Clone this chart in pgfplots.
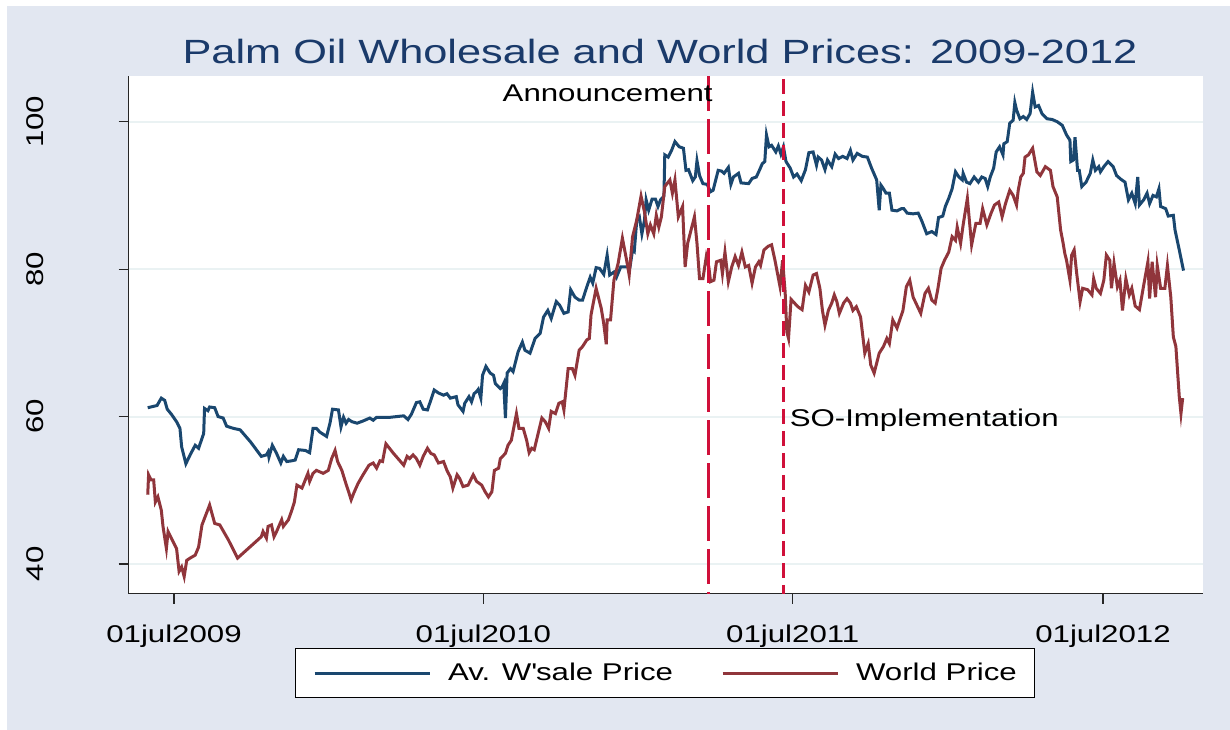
\documentclass[border=0pt]{standalone}
\usepackage{fontspec}
\setmainfont{Liberation Sans}[FakeStretch=1.29]
\usepackage{pgfplots}
\pgfplotsset{compat=1.18}
\definecolor{wblue}{HTML}{1A476F}
\definecolor{wred}{HTML}{90353B}
\definecolor{vline}{HTML}{D0103A}
\definecolor{bgc}{HTML}{E2E7F1}
\definecolor{gridc}{HTML}{EAF2F3}
\definecolor{titlec}{HTML}{1A3A6A}
\newcommand{\lab}{\fontsize{12.1bp}{14bp}\selectfont}
\begin{document}
\begin{tikzpicture}
\fill[white] (0,0) rectangle (615bp,365bp);
\fill[bgc] (3.5bp,0) rectangle (615bp,362bp);
\node[anchor=base, text=titlec, font=\fontsize{16.8bp}{20bp}\selectfont, inner sep=0pt] at (330bp,333.4bp) {Palm Oil Wholesale and World Prices: 2009-2012};
\begin{axis}[
  at={(64.25bp,68.15bp)}, anchor=south west,
  scale only axis, width=537.25bp, height=258.85bp,
  xmin=-53.7, xmax=1214, ymin=35.97, ymax=106.2,
  axis x line*=bottom, axis y line*=left,
  axis line style={line width=0.6bp, draw=black!85, -},
  axis background/.style={fill=white},
  xtick={0,365,730,1096},
  xticklabels={01jul2009,01jul2010,01jul2011,01jul2012},
  ytick={40,60,80,100}, yticklabels={40,60,80,100},
  tick align=outside, major tick length=5bp,
  tick style={line width=0.6bp, draw=black!85},
  ymajorgrids, grid style={line width=1bp, draw=gridc},
  xticklabel style={font=\lab, inner sep=0pt, anchor=north},
  xticklabel shift=10.3bp,
  yticklabel style={font=\lab, inner sep=0pt, rotate=90, anchor=base},
  yticklabel shift=37.5bp,
  legend style={at={(0.4993,-0.1532)}, anchor=center, draw=black, line width=0.6bp, fill=white,
    inner xsep=9bp, inner ysep=7bp, font=\lab, legend columns=2,
    /tikz/every even column/.append style={column sep=24bp},
    nodes={inner sep=0pt}},
  legend image code/.code={\draw[#1, line width=1.5bp] (0bp,0bp) -- (57.5bp,0bp); \path (66bp,0bp);},
  clip=false,
]
\addplot[wblue, line width=1.5bp] coordinates {
(-31,61.2) (-20,61.5) (-15,62.5) (-11,62.2) (-8,61.0) (-3,60.3) (3,59.3) (7,58.4) (9,55.9) (14,53.6) (19,54.8) (25,56.1) (29,55.7) (35,57.7) (36,61.1) (40,60.8) (42,61.3) (48,61.2) (52,60.0) (58,59.8) (62,58.7) (70,58.4) (78,58.2) (90,56.6) (103,54.6) (109,54.8) (111,55.2) (112,54.5) (116,56.1) (121,55.0) (126,53.7) (129,54.6) (133,53.9) (139,54.0) (143,54.1) (147,55.5) (155,55.4) (160,55.1) (164,58.4) (168,58.4) (172,57.9) (180,57.3) (184,59.1) (187,61.0) (194,60.9) (197,58.6) (200,59.9) (203,59.1) (206,59.6) (210,59.3) (216,59.1) (223,59.4) (231,59.8) (235,59.5) (239,59.9) (255,59.9) (271,60.1) (276,59.6) (280,60.3) (286,61.9) (290,62.0) (294,61.0) (299,60.9) (302,61.9) (307,63.6) (312,63.2) (318,62.9) (322,63.1) (326,62.5) (333,62.7) (335,61.6) (341,60.7) (343,61.8) (348,62.7) (351,62.0) (354,63.1) (357,63.4) (359,63.7) (362,62.5) (364,65.6) (368,66.8) (373,65.9) (377,65.6) (379,64.5) (385,63.8) (387,64.0) (389,64.5) (391,59.8) (393,65.9) (397,66.5) (400,66.1) (406,68.8) (411,70.1) (414,69.0) (420,68.6) (426,70.6) (432,71.3) (436,73.5) (441,74.4) (445,73.3) (451,75.6) (455,75.1) (460,74.0) (465,74.2) (468,77.2) (473,76.2) (478,75.8) (482,75.8) (487,77.6) (491,78.9) (494,78.1) (498,80.2) (502,80.1) (507,79.3) (511,81.9) (514,79.2) (519,79.6) (522,78.9) (527,80.3) (538,80.3) (541,82.6) (543,82.4) (546,86.7) (549,87.1) (552,84.8) (555,86.6) (557,89.4) (560,88.0) (564,89.5) (568,89.5) (571,88.5) (574,89.4) (578,89.9) (579,95.5) (583,95.2) (587,96.1) (591,97.3) (596,96.6) (601,96.4) (604,93.4) (607,93.5) (612,92.0) (615,92.5) (617,94.7) (620,92.7) (624,91.6) (629,91.5) (633,90.5) (636,90.7) (642,93.4) (646,93.3) (649,93.0) (654,93.8) (657,91.5) (660,92.5) (666,93.0) (669,91.7) (678,91.6) (682,92.3) (687,92.5) (691,93.5) (694,94.3) (697,94.6) (699,98.2) (702,96.6) (705,96.8) (710,95.9) (713,96.7) (716,95.6) (719,96.6) (722,94.6) (727,93.7) (731,92.5) (735,92.9) (740,92.0) (745,93.5) (749,95.8) (754,95.9) (758,94.1) (760,95.2) (764,94.8) (768,93.5) (771,94.8) (776,93.9) (780,95.6) (784,95.0) (789,95.3) (794,95.0) (798,96.1) (801,94.8) (806,95.7) (812,95.3) (818,95.2) (823,93.7) (829,92.1) (832,88.0) (834,91.4) (837,90.9) (840,90.3) (844,90.3) (847,88.0) (853,87.9) (858,88.2) (861,88.2) (865,87.6) (872,87.5) (878,87.6) (882,86.6) (888,84.8) (894,85.1) (899,84.7) (902,87.0) (907,87.2) (910,88.5) (914,89.6) (918,90.9) (922,93.2) (926,92.5) (930,92.1) (931,93.0) (935,91.8) (939,91.6) (944,92.5) (949,91.8) (953,92.5) (957,92.3) (960,91.2) (963,92.5) (967,93.7) (970,95.9) (974,96.6) (978,95.5) (979,97.0) (983,97.3) (986,99.8) (990,100.2) (992,102.6) (994,101.6) (998,100.4) (1002,100.7) (1006,100.3) (1010,101.1) (1013,104.0) (1016,102.0) (1020,102.2) (1024,101.1) (1030,100.4) (1036,100.3) (1042,100.0) (1048,99.5) (1053,98.2) (1057,97.5) (1058,94.6) (1061,94.8) (1063,97.9) (1066,93.4) (1068,93.4) (1071,91.2) (1076,91.8) (1081,93.0) (1084,94.8) (1087,93.4) (1091,93.9) (1093,93.2) (1097,93.9) (1102,94.6) (1108,93.9) (1112,92.7) (1117,92.2) (1122,91.8) (1126,89.4) (1130,90.3) (1134,88.9) (1137,92.5) (1139,88.7) (1144,89.4) (1148,90.3) (1151,88.9) (1155,90.0) (1159,89.8) (1162,90.9) (1164,88.5) (1170,88.2) (1173,87.2) (1179,87.3) (1181,85.3) (1186,82.6) (1191,79.8)
};
\addlegendentry{Av. W\textquotesingle sale Price}
\addplot[wred, line width=1.5bp] coordinates {
(-31,49.4) (-30,52.1) (-27,51.4) (-24,51.4) (-22,48.4) (-19,49.1) (-15,47.3) (-13,45.1) (-9,42.1) (-7,44.4) (-1,43.0) (3,42.1) (6,39.0) (9,39.6) (12,38.3) (15,40.5) (19,40.8) (25,41.2) (29,42.3) (33,45.3) (42,48.0) (48,45.5) (54,45.3) (64,43.3) (75,40.8) (103,43.7) (105,44.4) (109,43.5) (111,45.1) (115,45.3) (118,43.7) (121,44.4) (127,46.0) (129,45.1) (135,46.0) (139,47.3) (142,48.4) (145,50.7) (151,50.3) (158,52.3) (160,51.2) (164,52.3) (168,52.7) (176,52.3) (182,52.7) (186,54.3) (190,55.4) (193,53.9) (198,52.7) (202,51.2) (206,49.8) (209,48.7) (212,49.6) (217,50.9) (223,52.1) (230,53.4) (235,53.7) (239,53.0) (243,54.0) (246,53.9) (250,56.3) (259,55.0) (271,53.4) (275,54.6) (278,54.3) (282,54.8) (286,54.3) (290,53.4) (294,54.6) (299,55.7) (303,55.0) (307,54.8) (312,53.7) (318,53.9) (322,52.7) (326,51.8) (329,50.3) (334,52.1) (337,51.6) (341,50.5) (347,50.7) (353,52.1) (357,51.2) (363,50.7) (367,49.8) (371,49.1) (375,49.8) (378,52.7) (383,53.0) (385,54.3) (391,55.0) (394,56.1) (398,56.8) (404,60.4) (407,58.4) (412,58.4) (416,56.8) (419,55.1) (422,55.7) (425,55.5) (430,57.9) (434,59.8) (438,59.3) (442,58.4) (445,60.7) (450,60.4) (454,61.8) (458,62.0) (460,60.9) (465,66.5) (470,66.5) (473,65.6) (478,69.0) (482,69.5) (487,70.4) (490,70.6) (492,73.8) (498,77.4) (504,74.7) (507,72.6) (510,69.8) (511,73.1) (515,73.1) (519,78.5) (524,80.8) (529,84.2) (534,81.2) (537,79.2) (541,84.4) (546,86.7) (551,89.9) (555,87.8) (559,84.8) (562,86.0) (566,84.8) (569,87.3) (572,85.7) (575,87.1) (579,91.2) (585,92.1) (588,90.3) (591,92.1) (595,87.1) (600,88.5) (603,80.3) (606,83.5) (610,85.3) (614,87.1) (617,83.5) (620,78.7) (624,78.7) (628,81.7) (631,80.3) (633,78.3) (637,78.5) (640,81.0) (645,81.2) (647,79.4) (650,82.3) (654,78.3) (658,80.3) (662,81.7) (666,80.5) (670,82.3) (674,80.3) (678,80.5) (682,78.1) (686,80.3) (690,81.0) (692,80.5) (696,82.6) (701,83.1) (705,83.3) (709,81.2) (712,79.4) (715,77.6) (718,81.2) (721,76.9) (723,71.5) (725,70.6) (728,75.9) (732,75.4) (736,74.9) (741,74.5) (745,77.8) (749,76.9) (754,79.2) (758,79.4) (762,77.4) (765,74.4) (768,72.4) (772,74.4) (776,75.4) (779,76.5) (782,75.6) (785,74.0) (790,75.4) (794,76.0) (798,75.4) (801,74.4) (805,74.9) (810,73.5) (815,68.6) (819,69.9) (822,67.0) (826,65.9) (832,68.6) (837,69.5) (841,70.6) (844,69.9) (848,73.1) (853,72.0) (860,74.4) (864,77.6) (868,78.5) (872,76.2) (881,74.0) (886,76.7) (890,77.4) (894,75.8) (898,75.4) (901,77.2) (905,80.1) (909,81.2) (914,82.3) (918,84.4) (922,83.9) (924,85.7) (928,83.5) (931,86.0) (936,89.6) (941,83.3) (946,86.2) (951,86.2) (954,88.2) (959,86.0) (964,87.6) (968,88.7) (973,89.1) (977,87.1) (981,88.9) (986,90.7) (990,90.0) (994,88.7) (996,90.7) (999,92.5) (1002,93.0) (1004,95.2) (1008,95.5) (1013,96.4) (1018,93.2) (1022,92.7) (1028,93.9) (1034,93.4) (1037,91.2) (1042,89.8) (1046,85.3) (1049,83.5) (1051,82.1) (1053,81.2) (1057,78.5) (1059,81.9) (1062,82.6) (1065,79.4) (1069,75.6) (1072,77.4) (1078,77.2) (1083,76.5) (1085,78.7) (1088,77.4) (1093,76.7) (1097,78.5) (1100,81.9) (1104,81.2) (1106,77.4) (1109,80.8) (1113,77.6) (1116,78.5) (1119,74.4) (1123,78.7) (1127,76.5) (1130,77.4) (1134,75.0) (1139,74.5) (1144,77.8) (1149,81.0) (1151,76.0) (1154,81.0) (1158,76.2) (1160,80.5) (1164,77.4) (1169,77.4) (1172,80.5) (1176,76.2) (1179,70.8) (1182,69.5) (1186,62.7) (1188,60.4) (1190,62.5)
};
\addlegendentry{World Price}
\addplot[vline, line width=1.5bp, dash pattern=on 17.5bp off 4bp, forget plot] coordinates {(630,106.2) (630,35.97)};
\addplot[vline, line width=1.5bp, dash pattern=on 7.5bp off 3.5bp, forget plot] coordinates {(719,105.8) (719,35.97)};
\node[anchor=base east, font=\lab, inner sep=0pt] at (axis cs:636,102.7) {Announcement};
\node[anchor=base west, font=\lab, inner sep=0pt] at (axis cs:726,58.6) {SO-Implementation};
\end{axis}
\end{tikzpicture}
\end{document}
